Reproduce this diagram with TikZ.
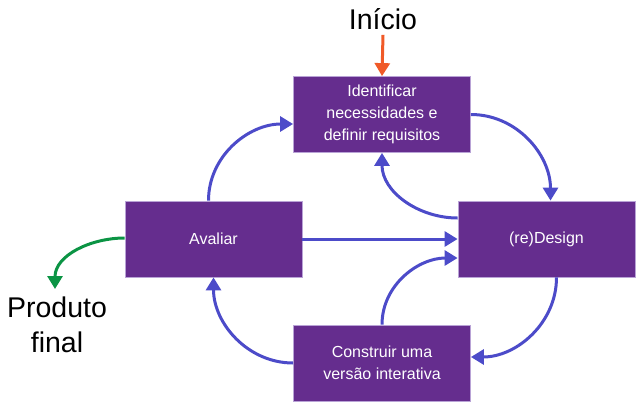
\documentclass[tikz,border=0pt]{standalone}
\usepackage{fontspec}
\setmainfont{Liberation Sans}
\usetikzlibrary{arrows.meta}
\definecolor{boxpurple}{HTML}{652D8E}
\definecolor{boxedge}{HTML}{B9A3D6}
\definecolor{flowblue}{HTML}{4C4BC9}
\definecolor{startred}{HTML}{F05A28}
\definecolor{endgreen}{HTML}{0B9444}
\tikzset{
  stage/.style={draw=boxedge, line width=0.8pt, fill=boxpurple, text=white,
    minimum width=177pt, minimum height=76pt, inner sep=2pt, align=center,
    font=\fontsize{16}{22}\selectfont},
  flow/.style={draw=flowblue, line width=3pt, -{Triangle[length=13pt,width=15pt]}},
  biglabel/.style={font=\fontsize{28.5}{35}\selectfont, align=center, inner sep=0pt},
}
\begin{document}
\begin{tikzpicture}[x=1pt,y=-1pt]
\useasboundingbox (0,0) rectangle (642,410);
\node[stage] (id) at (382,114.5) {Identificar\\necessidades e\\definir requisitos};
\node[stage] (av) at (213.5,239) {Avaliar};
\node[stage] (rd) at (546.5,239) {(re)Design};
\node[stage] (co) at (382,363) {Construir uma\\versão interativa};
\node[biglabel] (start) at (383,19) {Início};
\node[biglabel] (prod) at (57,325) {Produto\\final};
\coordinate (pf) at (55,289);

\draw[draw=startred, line width=3pt, -{Triangle[length=13pt,width=15pt]}] (start.south) ++(0,5) -- (id.north);
\draw[draw=endgreen, line width=3pt, -{Triangle[length=13pt,width=15pt]}] ([yshift=1pt]av.west) to[out=180,in=90] (pf);

\draw[flow] ([xshift=-5pt]av.north) to[out=90,in=180] ([yshift=-9.5pt]id.west);
\draw[flow] (id.east) to[out=0,in=90] ([xshift=4pt]rd.north);
\draw[flow] ([yshift=21pt]rd.west) to[out=180,in=-90] (id.south);
\draw[flow] (av.east) -- (rd.west);
\draw[flow] ([xshift=10pt]rd.south) to[out=-90,in=0] ([yshift=6pt]co.east);
\draw[flow] (co.north) to[out=90,in=180] ([yshift=-19pt]rd.west);
\draw[flow] (co.west) to[out=180,in=-90] (av.south);
\end{tikzpicture}
\end{document}
